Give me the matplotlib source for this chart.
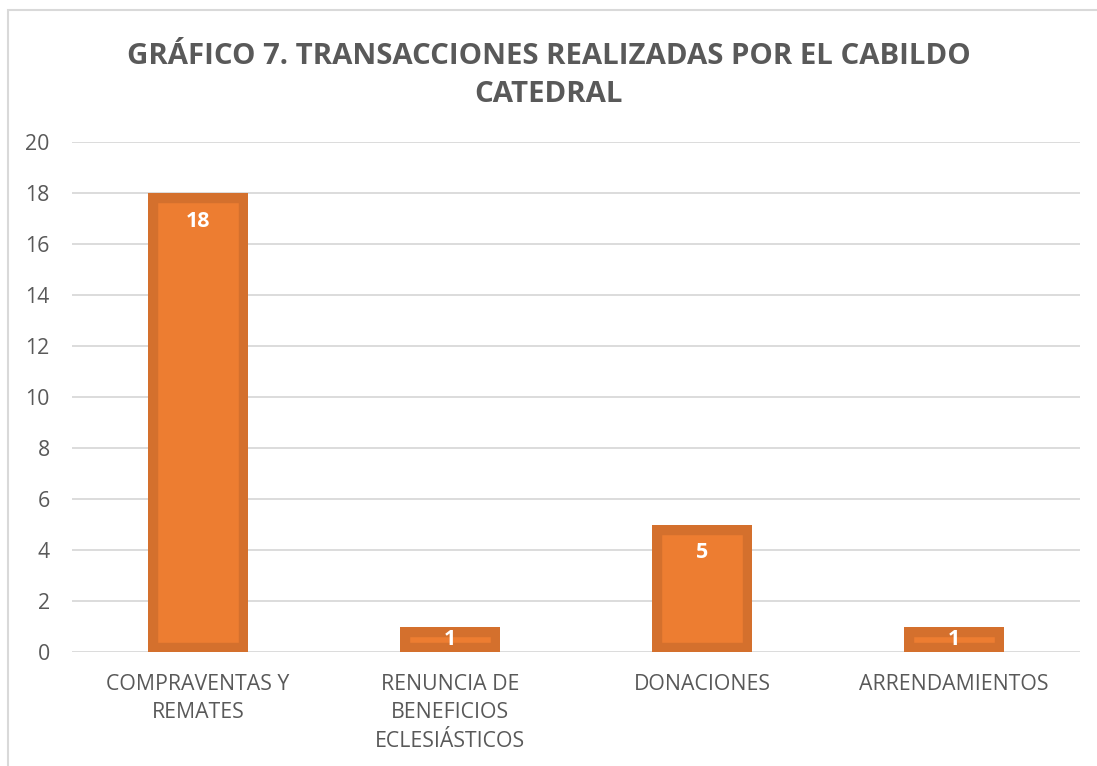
import matplotlib.pyplot as plt
from matplotlib.patches import Rectangle

categories = ['COMPRAVENTAS Y\nREMATES', 'RENUNCIA DE\nBENEFICIOS\nECLESIÁSTICOS',
              'DONACIONES', 'ARRENDAMIENTOS']
values = [18, 1, 5, 1]
yticks = [0, 2, 4, 6, 8, 10, 12, 14, 16, 18, 20]

plt.rcParams['font.family'] = ['Open Sans', 'DejaVu Sans']

fig = plt.figure(figsize=(10.97, 7.66), dpi=100)
ax = fig.add_axes([72 / 1097, 1 - 652 / 766, (1080 - 72) / 1097, (652 - 142) / 766])

# chart frame
fig.patches.append(Rectangle((8 / 1097, -0.1), 1.2, 1 - 10 / 766 + 0.1,
                             transform=fig.transFigure, fill=False,
                             edgecolor='#D9D9D9', linewidth=1.5))

x = range(len(categories))
bars = ax.bar(x, values, width=0.4, color='#ED7D31', edgecolor='#D4702D',
              linewidth=14, zorder=3)
# keep the border inside the bar
for b in bars:
    b.set_clip_path(b)

for xi, v in zip(x, values):
    if v > 2:
        ax.annotate(str(v), (xi, v), xytext=(0, -20.5), textcoords='offset points',
                    ha='center', va='center', color='white', fontsize=15.5,
                    fontweight='bold', zorder=4)
    else:
        ax.text(xi, v / 2, str(v), ha='center', va='center', color='white',
                fontsize=15.5, fontweight='bold', zorder=4)

ax.set_xlim(-0.5, len(categories) - 0.5)
ax.set_ylim(0, 20)
ax.set_yticks(yticks)
ax.set_xticks(list(x))
ax.set_xticklabels(categories, va='top', linespacing=1.45)
ax.tick_params(axis='both', length=0, labelsize=15.3, labelcolor='#595959')
ax.tick_params(axis='x', pad=16)
ax.tick_params(axis='y', pad=16)
ax.grid(axis='y', color='#D9D9D9', linewidth=1.3, zorder=0)
for s in ax.spines.values():
    s.set_visible(False)

fig.text(0.5, 1 - 56 / 766, 'GRÁFICO 7. TRANSACCIONES REALIZADAS POR EL CABILDO',
         ha='center', va='center', fontsize=21.2, fontweight='bold', color='#595959')
fig.text(0.5, 1 - 95 / 766, 'CATEDRAL',
         ha='center', va='center', fontsize=21.2, fontweight='bold', color='#595959')

fig.savefig('out.png', dpi=100)
